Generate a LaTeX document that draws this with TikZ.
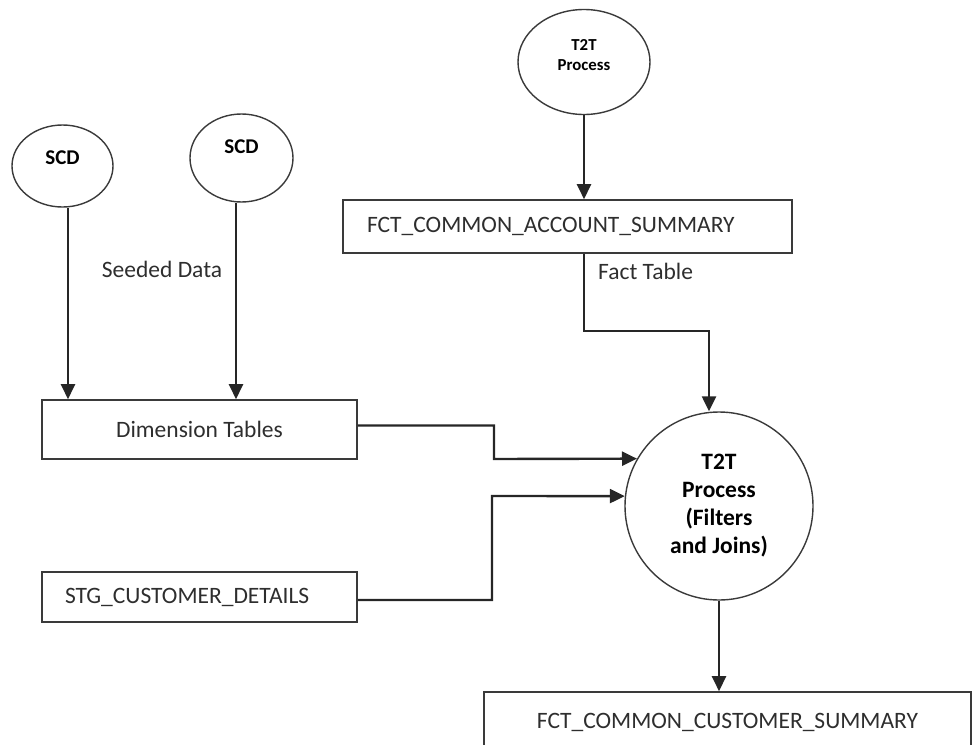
\documentclass[tikz,border=0pt]{standalone}
\usepackage{fontspec}
\setmainfont{Carlito}
\usetikzlibrary{arrows.meta,shapes.geometric}

\definecolor{inkline}{HTML}{262626}
\definecolor{shapeline}{HTML}{3A3A3A}
\definecolor{txt}{HTML}{2E2E2E}

% lift a label inside its shape without changing the shape's size
\newcommand{\liftlabel}[2]{\raisebox{#1}[\height][\depth]{\begin{tabular}{@{}c@{}}#2\end{tabular}}}

\tikzset{
  regtext/.style={font=\fontsize{23.5}{28}\selectfont, text=txt},
  boldtext/.style={font=\fontsize{23.5}{28}\selectfont\bfseries, text=black},
  procell/.style={ellipse, draw=shapeline, line width=1.4pt, inner sep=0pt, align=center},
  tablebox/.style={rectangle, draw=shapeline, line width=1.6pt, inner sep=0pt, regtext},
  flow/.style={draw=inkline, line width=2.4pt, -{Triangle[length=15pt,width=14pt]}},
  lbl/.style={regtext, inner sep=0pt}
}

\begin{document}
\begin{tikzpicture}[x=1pt, y=-1pt]
  \useasboundingbox (0,0) rectangle (974,744);

  % process ellipses
  \node[procell, minimum width=101pt, minimum height=82pt,
        font=\fontsize{21}{24}\selectfont\bfseries] (scdA) at (62.5,166) {\liftlabel{6pt}{SCD}};
  \node[procell, minimum width=103pt, minimum height=88pt,
        font=\fontsize{21}{24}\selectfont\bfseries] (scdB) at (241.5,158) {\liftlabel{9pt}{SCD}};
  \node[procell, minimum width=132pt, minimum height=105pt,
        font=\fontsize{16.8}{20}\selectfont\bfseries] (ttop) at (584,62) {\liftlabel{6pt}{T2T\\Process}};

  % tables
  \node[tablebox, minimum width=449pt, minimum height=53pt, text width=401pt, align=left]
        (fcas) at (567.5,226.5) {FCT\_COMMON\_ACCOUNT\_SUMMARY};
  \node[tablebox, minimum width=315pt, minimum height=59pt]
        (dim) at (199.5,429.5) {Dimension Tables};
  \node[tablebox, minimum width=315pt, minimum height=50pt, text width=269pt, align=left]
        (stg) at (199.5,597) {STG\_CUSTOMER\_DETAILS};
  \node[tablebox, minimum width=487pt, minimum height=60pt]
        (fccs) at (727.5,722) {FCT\_COMMON\_CUSTOMER\_SUMMARY};

  % central process
  \node[circle, draw=shapeline, line width=1.4pt, minimum size=188pt, inner sep=0pt,
        align=center, boldtext] (main) at (719,506) {T2T\\Process\\(Filters\\and Joins)};

  % labels
  \node[lbl] (seeded) at (162,269) {Seeded Data};
  \node[lbl, anchor=west] (fact) at (598,271) {Fact Table};

  % connectors
  \draw[flow] ([xshift=5.5pt]scdA.south) -- ([xshift=5.5pt]scdA.south |- dim.north);
  \draw[flow] ([xshift=-5.5pt]scdB.south) -- ([xshift=-5.5pt]scdB.south |- dim.north);
  \draw[flow] (ttop.south) -- (ttop.south |- fcas.north);
  \draw[flow] (fcas.south -| ttop.south) -- (584,331) -- (709,331) -- (709,331 |- main.north);
  \draw[flow] ([yshift=4pt]dim.east) -| (494,459) -- (main.150);
  \draw[flow] ([yshift=-3pt]stg.east) -| (492,496) -- (main.174);
  \draw[flow] (main.south) -- (main.south |- fccs.north);
\end{tikzpicture}
\end{document}
